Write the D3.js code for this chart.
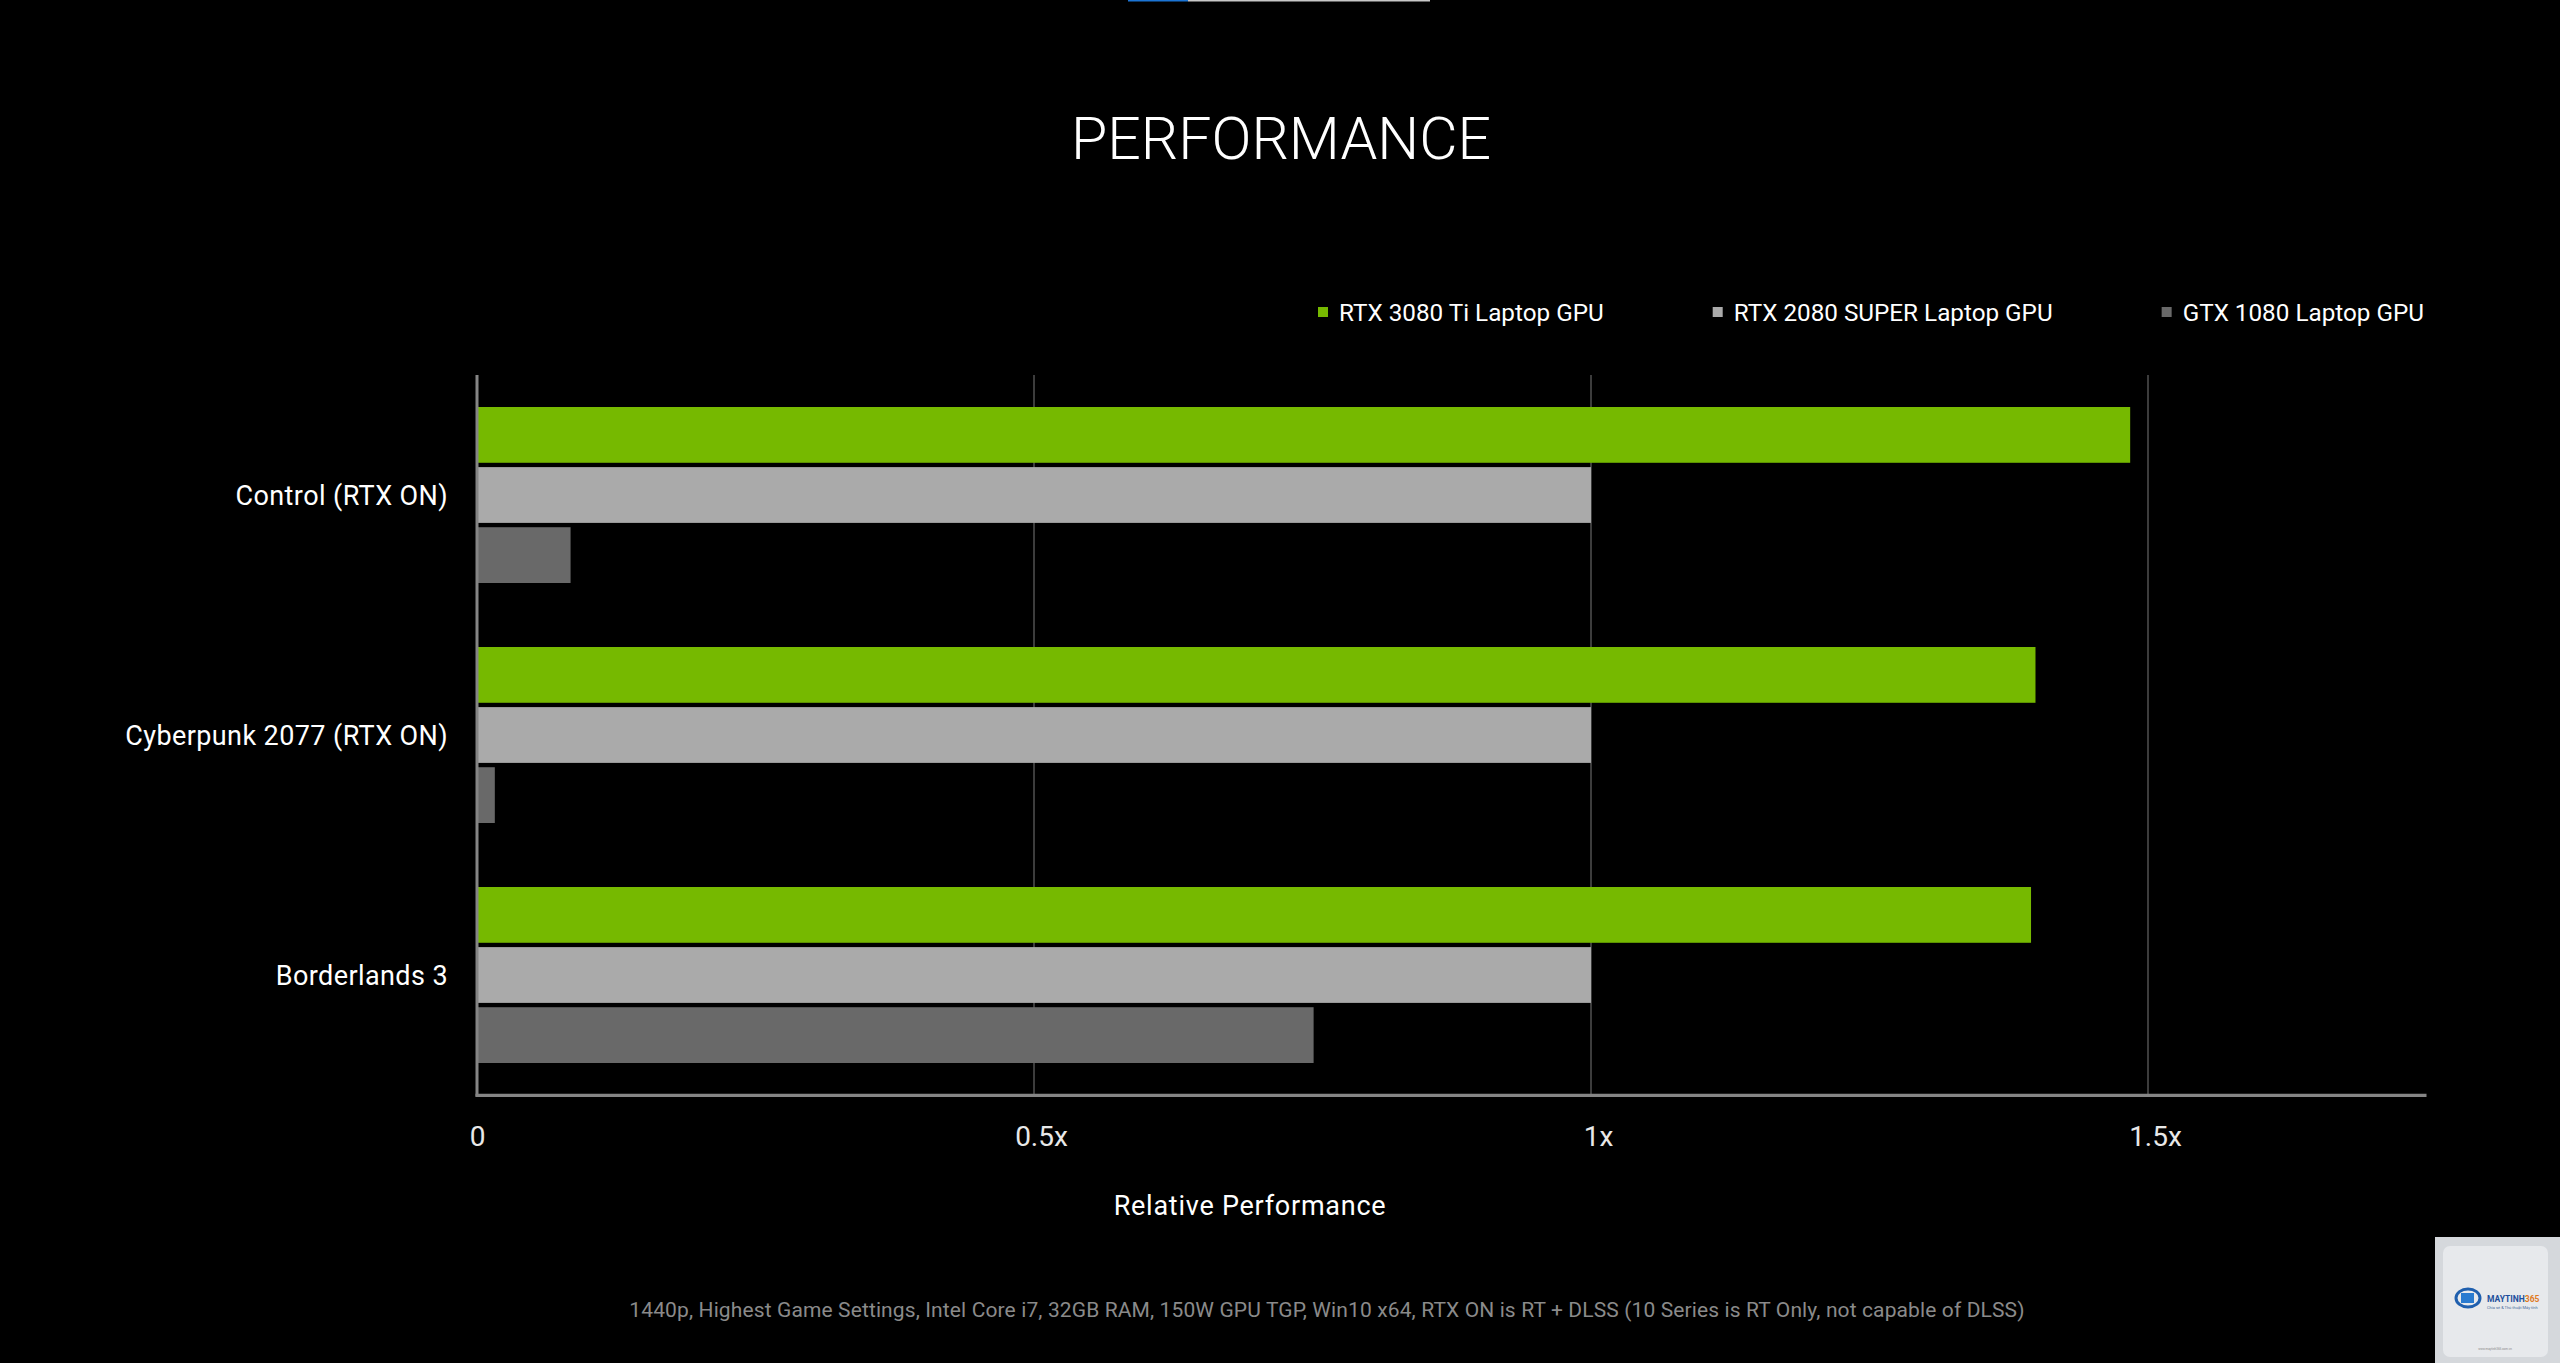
<!DOCTYPE html>
<html>
<head>
<meta charset="utf-8">
<script src="https://cdn.jsdelivr.net/npm/d3@7/dist/d3.min.js"></script>
<style>
  html, body { margin: 0; padding: 0; background: #000; overflow: hidden; }
  svg { display: block; }
  text { font-family: Roboto, "Noto Sans", sans-serif; }
</style>
</head>
<body>
<svg id="chart" width="2560" height="1363"></svg>
<script>
// ---- data ----
const categories = ["Control (RTX ON)", "Cyberpunk 2077 (RTX ON)", "Borderlands 3"];
const seriesNames = ["RTX 3080 Ti Laptop GPU", "RTX 2080 SUPER Laptop GPU", "GTX 1080 Laptop GPU"];
const rtx3080TiLaptop = [1.484, 1.399, 1.395];
const rtx2080SuperLaptop = [1.0, 1.0, 1.0];
const gtx1080Laptop = [0.084, 0.016, 0.751];
const xTicks = [0, 0.5, 1, 1.5];
const xTickLabels = ["0", "0.5x", "1x", "1.5x"];
const titleText = "PERFORMANCE";
const xAxisTitle = "Relative Performance";
const footnote = "1440p, Highest Game Settings, Intel Core i7, 32GB RAM, 150W GPU TGP, Win10 x64, RTX ON is RT + DLSS (10 Series is RT Only, not capable of DLSS)";

const seriesValues = [rtx3080TiLaptop, rtx2080SuperLaptop, gtx1080Laptop];
const colors = ["#76b900", "#aaaaaa", "#696969"];

const svg = d3.select("#chart");
svg.append("rect").attr("width", 2560).attr("height", 1363).attr("fill", "#000");

// top indicator line
svg.append("rect").attr("x", 1128).attr("y", 0).attr("width", 60).attr("height", 1.5).attr("fill", "#1b74d4");
svg.append("rect").attr("x", 1188).attr("y", 0).attr("width", 242).attr("height", 1.5).attr("fill", "#c8c8c8");

// title
svg.append("text")
  .attr("x", 1281).attr("y", 159)
  .attr("text-anchor", "middle")
  .attr("fill", "#ffffff")
  .attr("font-size", 59)
  .attr("font-weight", 300)
  .text(titleText);

// scales
const x = d3.scaleLinear().domain([0, 1.75]).range([477, 2426.5]);
const y0 = d3.scaleBand().domain(categories).range([375, 1095]).paddingInner(0).paddingOuter(0);
const y1 = d3.scaleBand().domain(seriesNames).range([32, 208]).paddingInner(0.072);

// gridlines
svg.append("g").selectAll("line")
  .data(xTicks.filter(d => d > 0))
  .join("line")
  .attr("x1", d => x(d)).attr("x2", d => x(d))
  .attr("y1", 375).attr("y2", 1095)
  .attr("stroke", "#3c3c3c").attr("stroke-width", 2);

// bars
const rows = [];
categories.forEach((c, i) => {
  seriesNames.forEach((s, j) => rows.push({ cat: c, ser: s, v: seriesValues[j][i], color: colors[j] }));
});
svg.append("g").selectAll("rect")
  .data(rows)
  .join("rect")
  .attr("x", x(0))
  .attr("y", d => y0(d.cat) + y1(d.ser))
  .attr("width", d => x(d.v) - x(0))
  .attr("height", y1.bandwidth())
  .attr("fill", d => d.color);

// axes lines
svg.append("line")
  .attr("x1", x(0)).attr("x2", x(0))
  .attr("y1", 375).attr("y2", 1096.5)
  .attr("stroke", "#858585").attr("stroke-width", 3);
svg.append("line")
  .attr("x1", x(0) - 1.5).attr("x2", x(1.75))
  .attr("y1", 1095.3).attr("y2", 1095.3)
  .attr("stroke", "#858585").attr("stroke-width", 3.2);

// x tick labels via d3 axis
const xAxis = d3.axisBottom(x)
  .tickValues(xTicks)
  .tickFormat((d, i) => xTickLabels[i])
  .tickSize(0).tickPadding(0);
const gx = svg.append("g").attr("transform", "translate(0,1146)").call(xAxis);
gx.select(".domain").remove();
gx.selectAll("text")
  .attr("y", 0).attr("dy", 0)
  .attr("dx", (d, i) => xTickLabels[i].endsWith("x") ? "0.25em" : 0)
  .attr("fill", "#e8e8e8")
  .attr("font-size", 28)
  .attr("font-family", "Roboto, 'Noto Sans', sans-serif");

// category labels via d3 axis
const yAxis = d3.axisLeft(y0).tickSize(0).tickPadding(0);
const gy = svg.append("g").attr("transform", "translate(448,10)").call(yAxis);
gy.select(".domain").remove();
gy.selectAll("text")
  .attr("dy", 0)
  .attr("fill", "#ffffff")
  .attr("font-size", 27)
  .attr("letter-spacing", 0.4)
  .attr("font-family", "Roboto, 'Noto Sans', sans-serif");

// axis title
svg.append("text")
  .attr("x", 1250).attr("y", 1215)
  .attr("text-anchor", "middle")
  .attr("fill", "#ffffff")
  .attr("font-size", 27)
  .attr("letter-spacing", 0.75)
  .text(xAxisTitle);

// legend
const legend = svg.append("g");
let lx = 1318;
seriesNames.forEach((s, j) => {
  legend.append("rect").attr("x", lx).attr("y", 307).attr("width", 10).attr("height", 10).attr("fill", colors[j]);
  const t = legend.append("text")
    .attr("x", lx + 21).attr("y", 321)
    .attr("fill", "#ffffff")
    .attr("font-size", 24.25)
    .text(s);
  lx = lx + 21 + t.node().getComputedTextLength() + 109;
});

// footnote
svg.append("text")
  .attr("x", 1327).attr("y", 1317)
  .attr("text-anchor", "middle")
  .attr("fill", "#8a8a8a")
  .attr("font-size", 21)
  .attr("letter-spacing", 0.12)
  .text(footnote);

// watermark badge (bottom-right)
const wm = svg.append("g");
wm.append("rect").attr("x", 2435).attr("y", 1237).attr("width", 125).attr("height", 126).attr("fill", "#d5d8dc");
wm.append("rect").attr("x", 2443).attr("y", 1246).attr("width", 105).attr("height", 111).attr("rx", 7).attr("fill", "#e7e9ec");
wm.append("ellipse").attr("cx", 2468).attr("cy", 1298).attr("rx", 12).attr("ry", 9).attr("fill", "none").attr("stroke", "#1f5fae").attr("stroke-width", 3);
wm.append("rect").attr("x", 2461).attr("y", 1293).attr("width", 13).attr("height", 10).attr("fill", "#2a7bd0");
const wt = wm.append("text").attr("x", 2487).attr("y", 1302).attr("font-size", 8.5).attr("font-weight", 700);
wt.append("tspan").attr("fill", "#1d4f9c").text("MAYTINH");
wt.append("tspan").attr("fill", "#e07a1f").text("365");
wm.append("text").attr("x", 2487).attr("y", 1309).attr("font-size", 4).attr("fill", "#4a6d9c").text("Chia sẻ & Thủ thuật Máy tính");
wm.append("text").attr("x", 2495).attr("y", 1350).attr("font-size", 3).attr("text-anchor", "middle").attr("fill", "#888").text("www.maytinh365.com.vn");
</script>
</body>
</html>
